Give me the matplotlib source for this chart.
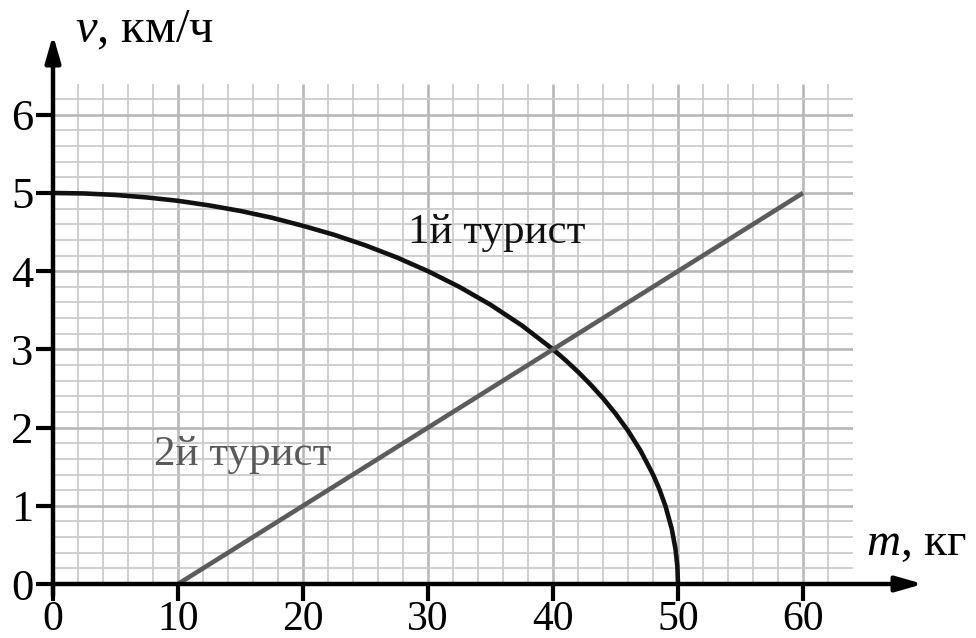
import numpy as np
import matplotlib
matplotlib.use("Agg")
from matplotlib import pyplot as plt

plt.rcParams['font.family'] = ['Liberation Serif', 'DejaVu Serif']
plt.rcParams['mathtext.fontset'] = 'custom'
plt.rcParams['mathtext.rm'] = 'Liberation Serif'
plt.rcParams['mathtext.it'] = 'Liberation Serif:italic'

# 1st tourist: speed vs load
m1 = [0, 2.5, 5, 7.5, 10, 12.5, 15, 17.5, 20, 22.5, 25, 27.5, 30, 32.5, 35, 37.5,
      40, 41, 42, 43, 44, 45, 46, 47, 48, 48.5, 49, 49.5, 49.8, 49.95, 50]
v1 = [5.0, 4.994, 4.975, 4.943, 4.9, 4.841, 4.77, 4.684, 4.58, 4.465, 4.33, 4.176,
      4.0, 3.8, 3.571, 3.307, 3.0, 2.862, 2.713, 2.551, 2.375, 2.179, 1.96, 1.706,
      1.4, 1.216, 0.995, 0.705, 0.447, 0.224, 0.0]
# 2nd tourist: straight line
m2 = [10, 60]
v2 = [0, 5]

xticks = [0, 10, 20, 30, 40, 50, 60]
yticks = [0, 1, 2, 3, 4, 5, 6]

fig = plt.figure(figsize=(9.76, 6.38), dpi=100)
ax = fig.add_axes([53/976, 54/638, 800/976, 500.5/638])
ax.set_xlim(0, 64)
ax.set_ylim(0, 6.4)

# graph paper grid
for x in np.arange(2, 63, 2):
    major = (x % 10 == 0)
    ax.vlines(x, 0, 6.4, color='#b8b8b8' if major else '#cccccc',
              lw=1.9 if major else 1.3, zorder=1)
for y in np.arange(1, 32) * 0.2:
    major = abs(y - round(y)) < 1e-6
    ax.hlines(y, 0, 64, color='#b8b8b8' if major else '#cccccc',
              lw=1.9 if major else 1.3, zorder=1)

ax.plot(m1, v1, color='#111111', lw=3.3, zorder=3, solid_capstyle='butt')
ax.plot(m2, v2, color='#5c5c5c', lw=3.3, zorder=3, solid_capstyle='butt')

ax.text(28.4, 4.36, '1й турист', fontsize=31, color='#111111', va='baseline', ha='left')
ax.text(8.1, 1.52, '2й турист', fontsize=31, color='#5a5a5a', va='baseline', ha='left')

for s in ax.spines.values():
    s.set_visible(False)
ax.set_xticks(xticks)
ax.set_yticks(yticks)
ax.tick_params(length=12, width=3, color='k')
ax.tick_params(axis='y', labelsize=32, pad=2)
ax.tick_params(axis='x', labelsize=30, pad=0)

# axes with arrows
arrow = dict(arrowstyle='-|>,head_length=0.8,head_width=0.23', lw=3.2, color='k',
             mutation_scale=20, shrinkA=0, shrinkB=0)
ax.annotate('', xy=(69.6, 0), xytext=(0, 0), annotation_clip=False, arrowprops=arrow)
ax.annotate('', xy=(0, 7.02), xytext=(0, -0.15), annotation_clip=False, arrowprops=arrow)

ax.text(1.75, 6.92, '$v$, км/ч', fontsize=35, va='baseline', ha='left', clip_on=False)
ax.text(65.0, 0.37, '$m$, кг', fontsize=34, va='baseline', ha='left', clip_on=False)

fig.savefig('out.png', dpi=100)
